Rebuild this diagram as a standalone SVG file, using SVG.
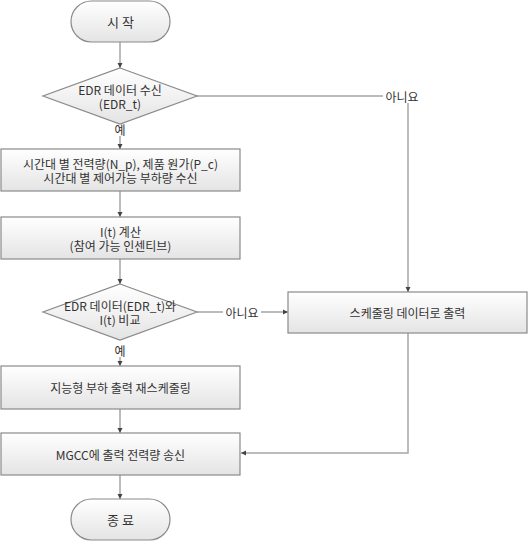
<svg xmlns="http://www.w3.org/2000/svg" width="529" height="544" viewBox="0 0 529 544">
<defs>
<linearGradient id="g" x1="0" y1="0" x2="0" y2="1">
<stop offset="0" stop-color="#ffffff"/>
<stop offset="1" stop-color="#e4e4e4"/>
</linearGradient>
<marker id="arr" markerWidth="6" markerHeight="6" refX="5" refY="3" orient="auto" markerUnits="userSpaceOnUse">
<path d="M0,0.5 L5,3 L0,5.5 Z" fill="#444"/>
</marker>
<style>
.shape{fill:url(#g);stroke:#8a8a8a;stroke-width:1.2}
.t{font-family:"Noto Sans CJK KR","Liberation Sans",sans-serif;font-size:12px;fill:#333;text-anchor:middle;dominant-baseline:central}
.c{fill:none;stroke:#a6a6a6;stroke-width:1.5}
.ca{fill:none;stroke:#a6a6a6;stroke-width:1.5;marker-end:url(#arr)}
</style>
</defs>
<rect width="529" height="544" fill="#fff"/>
<g id="connectors">
<line class="ca" x1="120" y1="42" x2="120" y2="68"/>
<line class="ca" x1="120" y1="136" x2="120" y2="149"/>
<line class="ca" x1="120" y1="191" x2="120" y2="217"/>
<line class="ca" x1="120" y1="259" x2="120" y2="284"/>
<line class="ca" x1="120" y1="357" x2="120" y2="366"/>
<line class="ca" x1="120" y1="409" x2="120" y2="433"/>
<line class="ca" x1="120" y1="475" x2="120" y2="499"/>
<polyline class="c" points="196,96 383,96"/>
<line class="ca" x1="408" y1="103" x2="408" y2="292"/>
<line class="c" x1="197" y1="312" x2="223" y2="312"/>
<line class="ca" x1="261" y1="312" x2="288" y2="312"/>
<polyline class="ca" points="408,333 408,453 241,453"/>
<text class="t" x="120" y="129">예</text>
<text class="t" x="120" y="350">예</text>
<text class="t" x="402" y="96">아니요</text>
<text class="t" x="242" y="312">아니요</text>
</g>
<g id="start">
<rect class="shape" x="71" y="1" width="99" height="41" rx="20.5"/>
<text class="t" x="120.5" y="21.5" style="font-size:13px">시 작</text>
</g>
<g id="edr-receive">
<polygon class="shape" points="120,68 197,96 120,124 43,96"/>
<text class="t" x="120" y="89">EDR 데이터 수신</text>
<text class="t" x="120" y="103">(EDR_t)</text>
</g>
<g id="receive-data">
<rect class="shape" x="1" y="149" width="239" height="42"/>
<text class="t" x="120.5" y="163">시간대 별 전력량(N_p), 제품 원가(P_c)</text>
<text class="t" x="120.5" y="177">시간대 별 제어가능 부하량 수신</text>
</g>
<g id="calc-it">
<rect class="shape" x="1" y="217" width="239" height="42"/>
<text class="t" x="120.5" y="231">I(t) 계산</text>
<text class="t" x="120.5" y="245">(참여 가능 인센티브)</text>
</g>
<g id="compare">
<polygon class="shape" points="120,284 197,312 120,340 43,312"/>
<text class="t" x="120" y="305">EDR 데이터(EDR_t)와</text>
<text class="t" x="120" y="319">I(t) 비교</text>
</g>
<g id="reschedule">
<rect class="shape" x="1" y="366" width="239" height="43"/>
<text class="t" x="120.5" y="387.5">지능형 부하 출력 재스케줄링</text>
</g>
<g id="send-mgcc">
<rect class="shape" x="1" y="433" width="239" height="42"/>
<text class="t" x="120.5" y="454">MGCC에 출력 전력량 송신</text>
</g>
<g id="end">
<rect class="shape" x="71" y="499" width="99" height="41" rx="20.5"/>
<text class="t" x="120.5" y="519.5" style="font-size:13px">종 료</text>
</g>
<g id="schedule-output">
<rect class="shape" x="288" y="292" width="239" height="41"/>
<text class="t" x="407.5" y="312.5">스케줄링 데이터로 출력</text>
</g>
</svg>
